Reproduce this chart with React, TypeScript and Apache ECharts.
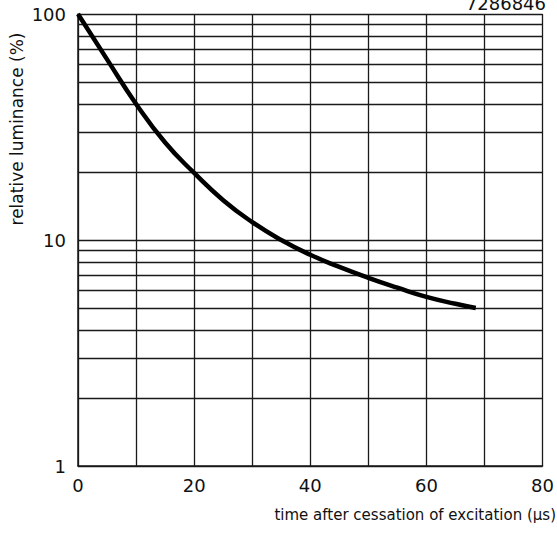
import React, { useEffect, useRef } from "react";
import * as echarts from "echarts";

const curveX = [0, 5, 10, 15, 20, 25, 30, 35, 40, 45, 50, 55, 60, 65, 68.5];
const curveY = [100, 63, 40, 27, 19.8, 15, 12, 10, 8.6, 7.6, 6.8, 6.15, 5.6, 5.22, 5.0];
const minorGrid = [2, 3, 4, 5, 6, 7, 8, 9, 20, 30, 40, 50, 60, 70, 80, 90];
const xTickLabels = [0, 20, 40, 60, 80];
const yTickLabels = [1, 10, 100];
const chartId = "7286846";
const yName = "relative luminance (%)";
const xName = "time after cessation of excitation (\u03bcs)";

export default function App() {
  const ref = useRef<HTMLDivElement>(null);
  useEffect(() => {
    if (!ref.current) return;
    const chart = echarts.init(ref.current, undefined, { renderer: "svg" });
    const font = "DejaVu Sans, Liberation Sans, sans-serif";
    const lineCol = "#1a1a1a";
    chart.setOption({
      animation: false,
      backgroundColor: "#fff",
      grid: { left: 78, right: 12, top: 14, bottom: 69 },
      xAxis: {
        type: "value",
        min: 0,
        max: 80,
        interval: 10,
        axisLine: { show: true, lineStyle: { color: lineCol, width: 1.5 } },
        axisTick: { show: false },
        splitLine: { show: true, lineStyle: { color: lineCol, width: 1.3 } },
        axisLabel: {
          color: "#111",
          fontFamily: font,
          fontSize: 18,
          margin: 10,
          formatter: (v: number) => (xTickLabels.includes(v) ? String(v) : ""),
        },
      },
      yAxis: {
        type: "log",
        logBase: 10,
        min: 1,
        max: 100,
        axisLine: { show: true, lineStyle: { color: lineCol, width: 1.5 } },
        axisTick: { show: false },
        splitLine: { show: true, lineStyle: { color: lineCol, width: 1.3 } },
        axisLabel: {
          color: "#111",
          fontFamily: font,
          fontSize: 18,
          margin: 12,
          formatter: (v: number) => (yTickLabels.includes(Math.round(v)) ? String(Math.round(v)) : ""),
        },
      },
      graphic: [
        {
          type: "text",
          right: 11,
          top: -6,
          style: { text: chartId, font: `18px ${font}`, fill: "#111" },
        },
        {
          type: "text",
          x: 17,
          y: 129,
          rotation: Math.PI / 2,
          style: {
            text: yName,
            font: `17px ${font}`,
            fill: "#111",
            textAlign: "center",
            textVerticalAlign: "middle",
          },
        },
        {
          type: "text",
          right: 1,
          top: 507,
          style: { text: xName, font: `15px ${font}`, fill: "#111" },
        },
      ],
      series: [
        {
          type: "line",
          data: curveX.map((x, i) => [x, curveY[i]]),
          smooth: 0.5,
          showSymbol: false,
          symbol: "none",
          lineStyle: { color: "#000", width: 4.5 },
          z: 5,
          markLine: {
            silent: true,
            symbol: "none",
            label: { show: false },
            lineStyle: { color: lineCol, width: 1.3, type: "solid" },
            data: minorGrid.map((v) => ({ yAxis: v })),
            z: 1,
          },
        },
      ],
    });
    return () => chart.dispose();
  }, []);
  return <div ref={ref} style={{ width: 557, height: 535, position: "absolute", left: 0, top: 0 }} />;
}
